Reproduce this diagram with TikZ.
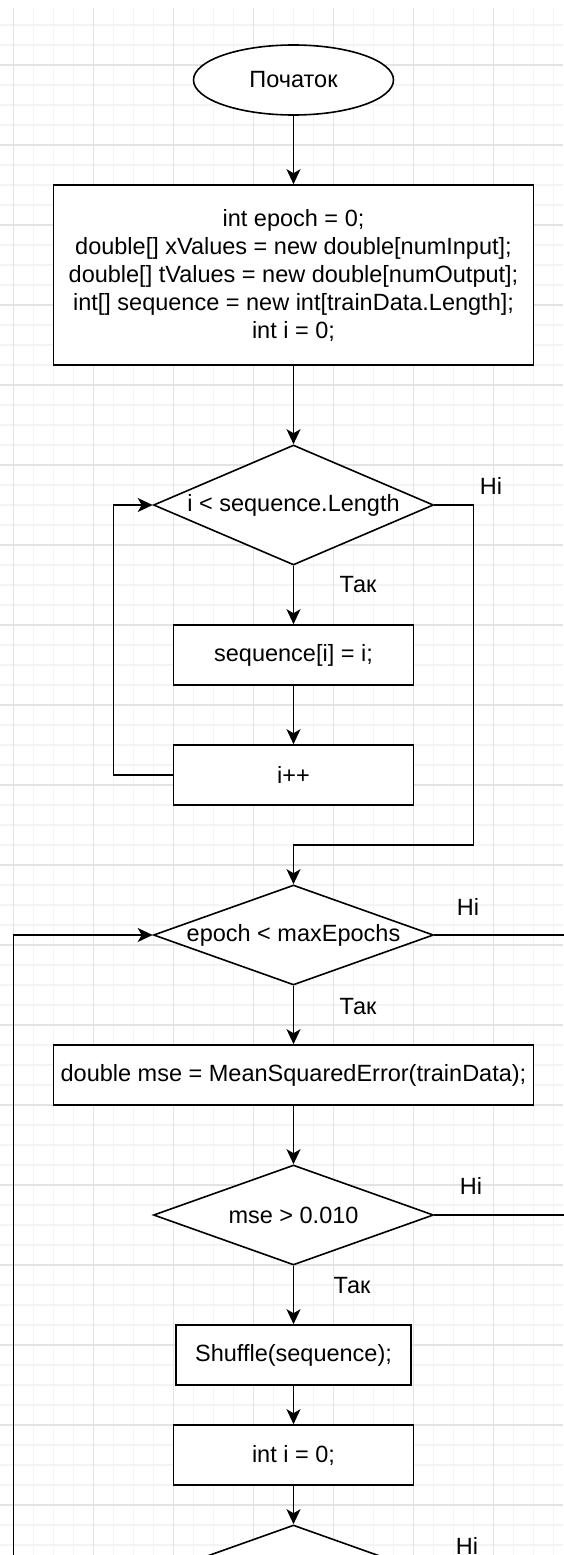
\documentclass[tikz,border=0pt]{standalone}
\usepackage{fontspec}
\setmainfont{Liberation Sans}
\usetikzlibrary{shapes.geometric,arrows.meta}

\definecolor{gridminor}{HTML}{F4F4F4}
\definecolor{gridmajor}{HTML}{E3E3E3}

\tikzset{
  flowline/.style={line width=1.6pt, draw=black},
  arr/.style={flowline, -{Stealth[length=15pt,width=14pt,inset=4pt]}},
  procbox/.style={draw=black, line width=1.6pt, fill=white, rectangle, inner sep=0pt,
                  align=center, font=\fontsize{23.5}{28}\selectfont},
  decision/.style={draw=black, line width=1.6pt, fill=white, diamond, inner sep=0pt,
                   minimum width=280pt},
  terminal/.style={draw=black, line width=1.6pt, fill=white, ellipse, inner sep=0pt,
                   minimum width=200pt, minimum height=70pt, font=\fontsize{23.5}{28}\selectfont},
  txt/.style={inner sep=0pt, font=\fontsize{23.5}{28}\selectfont},
  branch/.style={inner sep=0pt, font=\fontsize{23.5}{28}\selectfont}
}

\begin{document}
\begin{tikzpicture}[x=1pt, y=-1pt]
  % page
  \fill[white] (0,0) rectangle (563,1555);
  \useasboundingbox (0,0) rectangle (563,1555);

  % background grid: fine lines every 20, heavier every 80
  \foreach \gx in {13.5,33.5,...,553.5}
    \draw[gridminor, line width=1.5pt] (\gx,8) -- (\gx,1555);
  \foreach \gy in {25,45,...,1545}
    \draw[gridminor, line width=1.5pt] (0,\gy) -- (563,\gy);
  \foreach \gx in {13.5,93.5,...,493.5}
    \draw[gridmajor, line width=1.5pt] (\gx,8) -- (\gx,1555);
  \foreach \gy in {65,145,...,1505}
    \draw[gridmajor, line width=1.5pt] (0,\gy) -- (563,\gy);

  % blocks
  \node[terminal] (start) at (293.5,80) {Початок};
  \node[procbox, minimum width=480pt, minimum height=180pt] (init) at (293.5,275)
    {int epoch = 0;\\
     double[] xValues = new double[numInput];\\
     double[] tValues = new double[numOutput];\\
     int[] sequence = new int[trainData.Length];\\
     int i = 0;};

  \node[decision, minimum height=120pt] (d1) at (293.5,505) {};
  \node[txt] (d1t) at (d1.center) {i < sequence.Length};

  \node[procbox, minimum width=240pt, minimum height=60pt] (seqset) at (293.5,655) {sequence[i] = i;};
  \node[procbox, minimum width=240pt, minimum height=60pt] (inc) at (293.5,775) {i++};

  \node[decision, minimum height=100pt] (d2) at (293.5,935) {};
  \node[txt] (d2t) at (d2.center) {epoch < maxEpochs};

  \node[procbox, minimum width=480pt, minimum height=60pt] (mse) at (293.5,1075)
    {double mse = MeanSquaredError(trainData);};

  \node[decision, minimum height=100pt] (d3) at (293.5,1215) {};
  \node[txt] (d3t) at (d3.center) {mse > 0.010};

  \node[procbox, minimum width=235pt, minimum height=60pt] (shuf) at (293.5,1355) {Shuffle(sequence);};
  \node[procbox, minimum width=240pt, minimum height=60pt] (reset) at (293.5,1455) {int i = 0;};

  \node[decision, minimum height=100pt] (d4) at (293.5,1575) {};

  % bend points
  \coordinate (loopL) at (113.5,775);
  \coordinate (exitR) at (473.5,845);
  \coordinate (outerB) at (13.5,1560);
  \coordinate (out2) at (566,935);
  \coordinate (out3) at (566,1215);

  % connectors
  \draw[arr] (start) -- (init);
  \draw[arr] (init) -- (d1);
  \draw[arr] (d1) -- (seqset);
  \draw[arr] (seqset) -- (inc);
  \draw[arr] (inc.west) -- (loopL) |- (d1.west);
  \draw[arr] (d1.east) -| (exitR) -| (d2.north);
  \draw[arr] (outerB) |- (d2.west);
  \draw[flowline] (d2.east) -- (out2);
  \draw[arr] (d2) -- (mse);
  \draw[arr] (mse) -- (d3);
  \draw[flowline] (d3.east) -- (out3);
  \draw[arr] (d3) -- (shuf);
  \draw[arr] (shuf) -- (reset);
  \draw[arr] (reset) -- (d4);

  % branch labels
  \node[branch] (no1) at (491,486) {Ні};
  \node[branch] (yes1) at (358,585) {Так};
  \node[branch] (no2) at (468,907) {Ні};
  \node[branch] (yes2) at (358,1007) {Так};
  \node[branch] (no3) at (471,1186) {Ні};
  \node[branch] (yes3) at (352,1286) {Так};
  \node[branch] (no4) at (467,1546) {Ні};
\end{tikzpicture}
\end{document}
